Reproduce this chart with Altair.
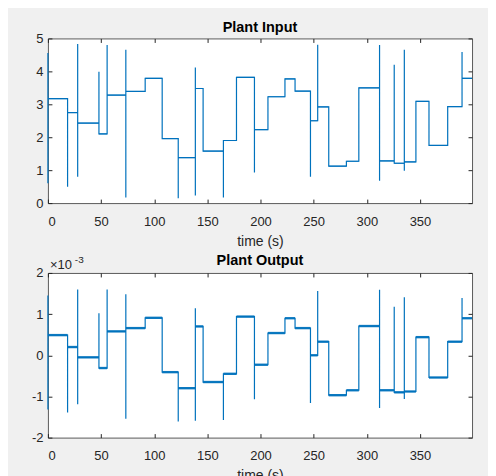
import altair as alt
import pandas as pd

# ---- data ----
switch_times = [0, 18.5, 28, 48, 55.7, 73.3, 91.5, 107.5, 122.6, 138.7, 146, 165.1,
                177.4, 194.3, 207, 223, 232.5, 247, 253.8, 264.2, 280.8, 292.5, 312,
                325.8, 335.3, 346.2, 358.5, 376.1, 389.6]
end_time = 399

input_levels = [3.17, 2.75, 2.43, 2.10, 3.28, 3.39, 3.79, 1.96, 1.38, 3.48, 1.58, 1.90,
                3.82, 2.23, 3.23, 3.77, 3.40, 2.50, 2.92, 1.12, 1.27, 3.50, 1.28, 1.21,
                1.25, 3.09, 1.75, 2.93, 3.79]
input_spikes = [[0.6, 4.56], [0.5], [4.83, 0.8], [3.99], [4.8], [4.66, 0.17], [], [],
                [0.15], [4.12, 0.23], [], [0.17], [], [0.93], [], [], [], [0.8], [4.81],
                [], [], [], [4.8, 0.68], [4.2], [4.66, 0.98], [], [], [], [4.59]]

# plant output in units of 1e-3
output_levels = [0.49, 0.20, -0.05, -0.31, 0.58, 0.66, 0.91, -0.41, -0.80, 0.70, -0.65,
                 -0.45, 0.94, -0.23, 0.54, 0.90, 0.66, 0.00, 0.33, -0.97, -0.85, 0.71,
                 -0.85, -0.90, -0.88, 0.44, -0.54, 0.33, 0.90]
output_spikes = [[-1.32, 1.45], [-1.39], [1.6, -1.19], [1.02], [1.6], [1.48, -1.54], [], [],
                 [-1.61], [1.14, -1.59], [], [-1.57], [], [-1.07], [], [], [], [-1.16],
                 [1.56], [], [], [], [1.59, -1.28], [1.18], [1.41, -1.06], [], [], [], [1.39]]

x_ticks = [0, 50, 100, 150, 200, 250, 300, 350]
in_ticks = [0, 1, 2, 3, 4, 5]
out_ticks = [-2, -1, 0, 1, 2]


def build_path(levels, spikes):
    rows = []
    k = 0
    for i, t in enumerate(switch_times):
        if i > 0:
            rows.append({"t": t, "v": levels[i - 1], "k": k}); k += 1
        for s in spikes[i]:
            rows.append({"t": t, "v": s, "k": k}); k += 1
        rows.append({"t": t, "v": levels[i], "k": k}); k += 1
    rows.append({"t": end_time, "v": levels[-1], "k": k})
    return pd.DataFrame(rows)


def build_steps(levels):
    ends = switch_times[1:] + [end_time]
    return pd.DataFrame({"t": switch_times, "t2": ends, "v": levels})


FONT = "Liberation Sans"
TXT = "#262626"
BLUE = "#0072BD"
W, H = 425, 165

xscale = alt.Scale(domain=[0, end_time], nice=False, zero=False)


def axis(orient, values, labels=True, title=None):
    kw = dict(orient=orient, values=values, domain=False, grid=False, tickSize=4,
              tickColor=TXT, tickWidth=1, offset=-4, labels=labels,
              labelFont=FONT, labelFontSize=13, labelColor=TXT,
              labelExpr="datum.value + ''")
    if orient == "bottom":
        kw["labelPadding"] = 12
    elif orient == "left":
        kw["labelPadding"] = 5
    else:
        kw["labelPadding"] = 0
        kw["minExtent"] = 0
        kw["maxExtent"] = 0
    if title:
        kw.update(title=title, titleFont=FONT, titleFontSize=14, titleFontWeight="normal",
                  titleColor=TXT, titlePadding=6)
    else:
        kw["title"] = None
    return alt.Axis(**kw)


def panel(df, steps, domain, yticks, title, thick, title_offset):
    yscale = alt.Scale(domain=domain, nice=False, zero=False)
    line = alt.Chart(df).mark_line(color=BLUE, strokeWidth=1.2, interpolate="linear").encode(
        x=alt.X("t:Q", scale=xscale, axis=axis("bottom", x_ticks, True, "time (s)")),
        y=alt.Y("v:Q", scale=yscale, axis=axis("left", yticks, True)),
        order="k:Q",
    )
    rules = alt.Chart(steps).mark_rule(color=BLUE, strokeWidth=thick, opacity=0.9).encode(
        x=alt.X("t:Q", scale=xscale, axis=axis("top", x_ticks, False)),
        x2="t2:Q",
        y=alt.Y("v:Q", scale=yscale, axis=axis("right", yticks, False)),
    )
    return alt.layer(line, rules).resolve_axis(x="independent", y="independent").properties(
        width=W, height=H,
        title=alt.TitleParams(title, font=FONT, fontSize=14.5, fontWeight="bold", color="black",
                              frame="group", offset=title_offset, anchor="middle"),
    )


top = panel(build_path(input_levels, input_spikes), build_steps(input_levels),
            [0, 5], in_ticks, "Plant Input", 1.0, -3)

bottom_base = panel(build_path(output_levels, output_spikes), build_steps(output_levels),
                    [-2, 2], out_ticks, "Plant Output", 2.4, -14)

exp_df = pd.DataFrame({"a": ["\u00d710"], "b": ["-3"]})
times_ten = alt.Chart(exp_df).mark_text(font=FONT, fontSize=13, color=TXT, align="left",
                                        baseline="middle").encode(
    x=alt.value(2), y=alt.value(-8), text="a:N")
exponent = alt.Chart(exp_df).mark_text(font=FONT, fontSize=10, color=TXT, align="left",
                                       baseline="middle").encode(
    x=alt.value(27), y=alt.value(-13), text="b:N")

bottom = alt.layer(bottom_base, times_ten, exponent)

chart = alt.vconcat(top, bottom, spacing=4).properties(
    padding={"left": 22, "top": 11, "right": 13, "bottom": 5},
    background="#f0f0f0",
).configure_view(stroke="#5a5a5a", strokeWidth=1, fill="white")

chart.save("out.html", embed_options={"renderer": "svg", "actions": False})
